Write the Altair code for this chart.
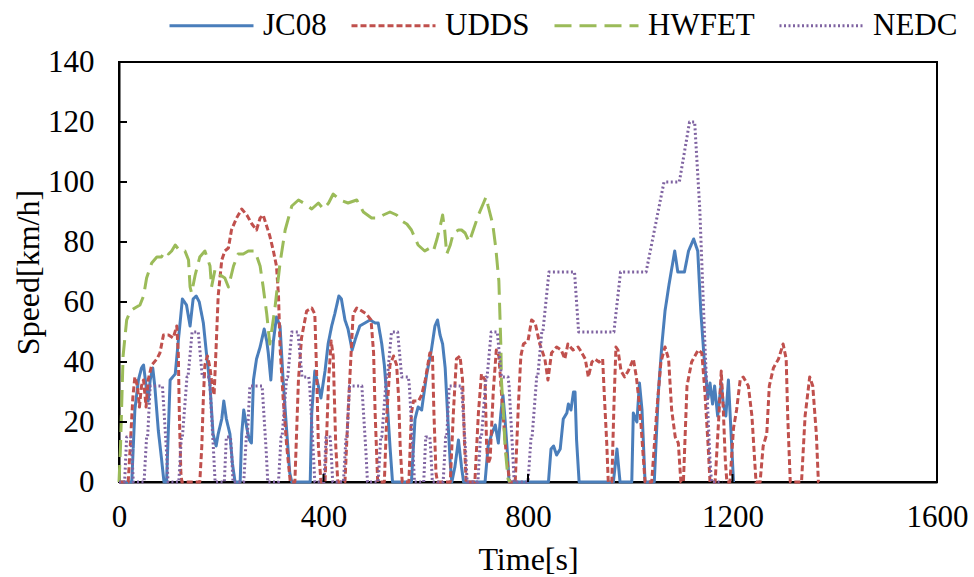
import altair as alt
import pandas as pd

# ---------------- data ----------------
series_names = ["JC08", "UDDS", "HWFET", "NEDC"]
series_colors = ["#4A7EBB", "#C0504D", "#9BBB59", "#7F63A1"]

jc08_t = [0, 25, 31, 38, 44, 48, 53, 57, 61, 66, 70, 77, 83, 88, 93, 100, 110, 116, 124, 132,
          139, 145, 151, 157, 165, 171, 178, 184, 190, 194, 201, 205, 210, 217, 222, 227, 237,
          240, 244, 250, 255, 259, 263, 269, 276, 284, 289, 292, 297, 302, 308, 315, 321, 328,
          334, 338, 374, 377, 383, 390, 395, 403, 409, 416, 422, 430, 435, 442, 448, 456, 463,
          471, 481, 491, 501, 507, 514, 519, 524, 530, 535, 572, 579, 585, 592, 596, 602, 611,
          618, 623, 628, 633, 638, 642, 648, 651, 657, 664, 670, 674, 716, 722, 729, 736, 742,
          747, 751, 755, 760, 763, 840, 845, 850, 856, 863, 869, 876, 879, 884, 889, 892, 895,
          900, 967, 974, 980, 1003, 1006, 1013, 1018, 1023, 1029, 1047, 1055, 1062, 1068, 1076,
          1087, 1093, 1106, 1114, 1124, 1132, 1138, 1145, 1152, 1156, 1161, 1165, 1171, 1178,
          1182, 1187, 1192, 1197, 1202]
jc08_v = [0, 0, 24, 34, 38, 39, 32, 27, 34, 38, 32, 17, 8, 0, 0, 34, 36, 47, 61, 59,
          52, 61, 62, 60, 53, 43, 32, 16, 12, 16, 21, 27, 21, 16, 6, 0, 0,
          16, 24, 18, 14, 13, 34, 41, 45, 51, 47, 43, 34, 47, 55, 52, 34, 17,
          3, 0, 0, 23, 37, 32, 28, 37, 46, 52, 56, 62, 61, 54, 51, 44, 48,
          52, 53, 54, 53, 53, 46, 39, 28, 12, 0, 0, 21, 25, 24, 29, 36, 44,
          52, 54, 49, 46, 38, 25, 6, 0, 5, 14, 5, 0, 0, 12, 16, 19, 13,
          23, 29, 21, 9, 0, 0, 11, 12, 9, 11, 21, 23, 26, 24, 30, 30, 14,
          0, 0, 11, 0, 0, 23, 20, 33, 24, 0, 0, 30, 46, 57, 66,
          77, 70, 70, 77, 81, 77, 57, 40, 28, 33, 26, 32, 22, 33,
          26, 22, 34, 17, 0]

udds_t = [0, 18, 22, 27, 31, 36, 40, 44, 48, 53, 57, 64, 74, 80, 87, 97, 106, 113, 116, 118,
          121, 123, 158, 162, 165, 168, 173, 178, 181, 186, 190, 194, 201, 207, 214, 220, 230,
          240, 250, 260, 269, 276, 282, 295, 302, 308, 312, 315, 321, 328, 335, 344, 351, 357,
          367, 377, 383, 387, 390, 395, 403, 410, 415, 419, 424, 428, 442, 448, 454, 458, 465,
          475, 484, 493, 498, 501, 506, 519, 524, 530, 537, 543, 547, 550, 554, 567, 572, 576,
          586, 592, 599, 608, 613, 616, 620, 623, 648, 654, 660, 667, 672, 676, 679, 696, 703,
          709, 716, 719, 722, 726, 732, 738, 743, 750, 757, 764, 775, 781, 786, 791, 800, 807,
          814, 823, 833, 839, 846, 856, 865, 872, 878, 888, 898, 902, 912, 918, 925, 931, 939,
          946, 949, 954, 957, 964, 968, 972, 976, 982, 989, 996, 1006, 1012, 1019, 1026, 1029,
          1042, 1052, 1060, 1068, 1075, 1081, 1088, 1094, 1099, 1104, 1111, 1120, 1133, 1140,
          1146, 1152, 1156, 1166, 1174, 1178, 1182, 1186, 1189, 1195, 1202, 1208, 1215, 1221,
          1231, 1238, 1242, 1246, 1254, 1260, 1267, 1272, 1280, 1290, 1299, 1305, 1308, 1313,
          1335, 1342, 1351, 1357, 1364, 1368, 1369]
udds_v = [0, 0, 12, 28, 35, 32, 25, 32, 34, 25, 34, 39, 41, 43, 49, 49, 48, 52, 43, 23,
          3, 0, 0, 12, 28, 39, 42, 38, 34, 29, 45, 62, 74, 77, 78, 84, 88,
          91, 89, 86, 84, 88, 89, 82, 77, 72, 62, 45, 28, 12, 0, 0, 34, 48,
          57, 58, 56, 34, 12, 0, 0, 34, 47, 42, 12, 0, 0, 23, 43, 56, 58,
          57, 56, 54, 43, 23, 0, 0, 23, 39, 42, 39, 28, 12, 0, 0, 23, 27,
          27, 29, 34, 43, 43, 23, 3, 0, 0, 23, 41, 42, 34, 12, 0, 0, 23,
          36, 34, 12, 6, 8, 30, 44, 42, 25, 10, 0, 0, 25, 42, 46, 47, 54,
          53, 46, 41, 34, 43, 45, 44, 41, 46, 44, 45, 44, 41, 35, 40, 41, 40,
          41, 30, 13, 0, 0, 25, 45, 44, 37, 35, 37, 41, 35, 24, 7, 0,
          0, 24, 40, 45, 41, 24, 15, 13, 0, 0, 32, 40, 44, 43,
          30, 13, 0, 0, 24, 37, 24, 7, 0, 0, 18, 24, 34, 35,
          32, 22, 11, 0, 0, 12, 16, 32, 38, 41, 46, 41, 22, 0,
          0, 22, 35, 32, 16, 0, 0]

hwfet_t = [0, 3, 8, 15, 22, 31, 41, 48, 54, 64, 74, 83, 90, 97, 103, 110, 119, 129, 136, 139,
           142, 149, 158, 168, 178, 181, 188, 198, 207, 214, 224, 233, 243, 253, 266, 276, 282,
           289, 295, 305, 315, 325, 338, 351, 361, 377, 390, 400, 410, 419, 432, 448, 465, 478,
           494, 507, 517, 530, 543, 553, 563, 572, 585, 598, 608, 615, 622, 628, 633, 637, 641,
           648, 654, 664, 670, 677, 685, 693, 703, 713, 718, 722, 731, 737, 743, 745, 747, 748,
           752, 755, 761, 765]
hwfet_v = [0, 12, 42, 54, 57, 58, 59, 62, 68, 73, 75, 75, 77, 76, 77, 79, 77, 77, 74, 65,
           63, 69, 75, 77, 72, 65, 71, 69, 68, 65, 72, 76, 76, 77, 77, 72, 65,
           56, 46, 58, 73, 84, 92, 94, 93, 91, 93, 91, 93, 96, 94, 93, 94, 90,
           88, 88, 89, 90, 89, 87, 86, 84, 79, 77, 78, 77, 81, 85, 89, 84, 76,
           79, 83, 84, 84, 83, 80, 84, 89, 93, 95, 92, 86, 78, 67, 56, 45, 34,
           23, 12, 1, 0]

nedc_t = [0, 11, 15, 23, 25, 28, 49, 54, 56, 61, 85, 93, 96, 117, 122, 124, 133, 135, 143, 155,
          163, 176, 178, 185, 188,
          195, 206, 210, 218, 220, 223, 244, 249, 251, 256, 280, 288, 291, 312, 317, 319, 328,
          330, 338, 350, 358, 371, 373, 380, 383,
          390, 401, 405, 413, 415, 418, 439, 444, 446, 451, 475, 483, 486, 507, 512, 514, 523,
          525, 533, 545, 553, 566, 568, 575, 578,
          585, 596, 600, 608, 610, 613, 634, 639, 641, 646, 670, 678, 681, 702, 707, 709, 718,
          720, 728, 740, 748, 761, 763, 770, 773,
          780, 800, 806, 808, 817, 819, 827, 829, 841, 891, 899, 968, 981, 1031, 1066, 1096,
          1116, 1126, 1136, 1146, 1156, 1159, 1180]
nedc_v = [0, 0, 15, 15, 10, 0, 0, 15, 15, 32, 32, 10, 0, 0, 15, 15, 35, 35, 50, 50,
          35, 35, 32, 10, 0,
          0, 0, 15, 15, 10, 0, 0, 15, 15, 32, 32, 10, 0, 0, 15, 15, 35,
          35, 50, 50, 35, 35, 32, 10, 0,
          0, 0, 15, 15, 10, 0, 0, 15, 15, 32, 32, 10, 0, 0, 15, 15, 35,
          35, 50, 50, 35, 35, 32, 10, 0,
          0, 0, 15, 15, 10, 0, 0, 15, 15, 32, 32, 10, 0, 0, 15, 15, 35,
          35, 50, 50, 35, 35, 32, 10, 0,
          0, 0, 15, 15, 35, 35, 50, 50, 70, 70, 50, 50, 70, 70, 100, 100,
          120, 120, 91, 46, 7, 0, 0]

x_ticks = [0, 400, 800, 1200, 1600]
y_ticks = [0, 20, 40, 60, 80, 100, 120, 140]
x_inner_ticks = [400, 800, 1200]
y_inner_ticks = [20, 40, 60, 80, 100, 120]

# ---------------- table ----------------
rows = []
for name, ts, vs in [("JC08", jc08_t, jc08_v), ("UDDS", udds_t, udds_v),
                     ("HWFET", hwfet_t, hwfet_v), ("NEDC", nedc_t, nedc_v)]:
    for i, (t, v) in enumerate(zip(ts, vs)):
        rows.append({"series": name, "t": t, "v": v, "i": i})
df = pd.DataFrame(rows)

FONT = "Liberation Serif, Times New Roman, serif"
W, H = 818, 420

x_scale = alt.Scale(domain=[0, 1600], nice=False, zero=False)
y_scale = alt.Scale(domain=[0, 140], nice=False)

leg = alt.Legend(title=None, orient="none", direction="horizontal",
                 legendX=49, legendY=-80, labelFont=FONT, labelFontSize=31,
                 labelColor="black", symbolType="stroke", symbolSize=7056,
                 labelOffset=8, columnPadding=18, labelLimit=300, padding=0)

lines = alt.Chart(df).mark_line(interpolate="linear", strokeJoin="round").encode(
    x=alt.X("t:Q", scale=x_scale,
            axis=alt.Axis(values=x_ticks, format="d", title="Time[s]", ticks=False,
                          labelPadding=20, labelFlush=False, labelFont=FONT, labelFontSize=31,
                          titleY=62, titleBaseline="top", grid=False)),
    y=alt.Y("v:Q", scale=y_scale,
            axis=alt.Axis(values=y_ticks, format="d", title="Speed[km/h]", ticks=False,
                          labelPadding=25, labelFlush=False, labelFont=FONT, labelFontSize=31,
                          titleX=-91, titleY=210, titleBaseline="middle", titleAlign="center",
                          grid=False)),
    color=alt.Color("series:N", scale=alt.Scale(domain=series_names, range=series_colors),
                    legend=leg),
    strokeDash=alt.StrokeDash("series:N",
                              scale=alt.Scale(domain=series_names,
                                              range=[[1, 0], [6, 3], [17, 8], [2, 2.5]]),
                              legend=leg),
    strokeWidth=alt.StrokeWidth("series:N",
                                scale=alt.Scale(domain=series_names, range=[3, 3, 3, 2.5]),
                                legend=leg),
    order="i:Q",
)

ydf = pd.DataFrame({"v": y_inner_ticks})
xdf = pd.DataFrame({"t": x_inner_ticks})

ytick_layer = alt.Chart(ydf).mark_rule(color="black", strokeWidth=2).encode(
    y=alt.Y("v:Q", scale=y_scale),
    x=alt.value(0), x2=alt.value(8),
)
xtick_layer = alt.Chart(xdf).mark_rule(color="black", strokeWidth=2).encode(
    x=alt.X("t:Q", scale=x_scale),
    y=alt.value(H), y2=alt.value(H - 8),
)

chart = alt.layer(lines, ytick_layer, xtick_layer).properties(
    width=W, height=H,
    autosize=alt.AutoSizeParams(type="none"),
    padding={"left": 119, "top": 62, "right": 37, "bottom": 95},
    background="white",
).configure(
    font=FONT,
).configure_view(
    stroke="black", strokeWidth=2,
).configure_axis(
    labelFont=FONT, labelFontSize=31, labelColor="black",
    titleFont=FONT, titleFontSize=32, titleFontWeight="normal", titleColor="black",
    domainColor="black", domainWidth=2,
).configure_legend(
    labelFont=FONT, labelFontSize=31, labelColor="black",
)

chart.save("out.html", embed_options={"renderer": "svg", "actions": False})
